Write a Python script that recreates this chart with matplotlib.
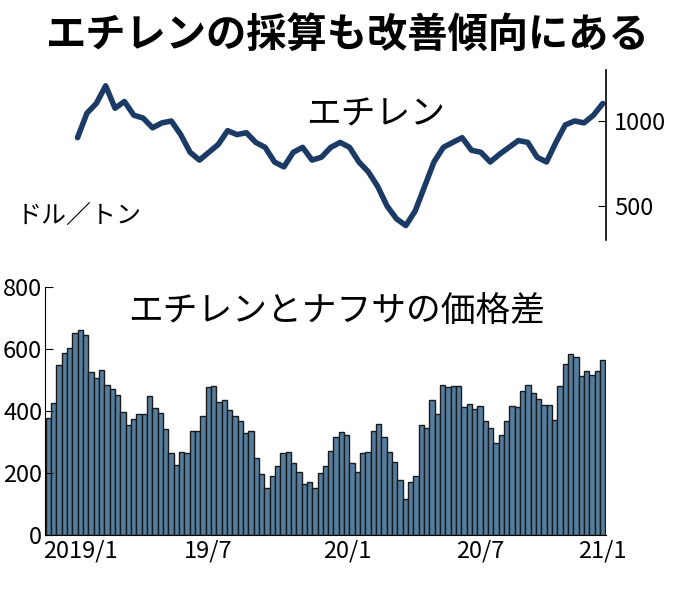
import matplotlib
matplotlib.use("Agg")
import matplotlib.pyplot as plt
import numpy as np

plt.rcParams["font.family"] = "Noto Sans CJK JP"

# weekly ethylene-naphtha spread, 2019/1 - 2021/1
spread = [378, 425, 550, 588, 603, 652, 660, 644, 527, 507, 532, 484, 470, 452,
          396, 356, 374, 390, 391, 447, 410, 394, 343, 266, 227, 269, 263, 337,
          337, 383, 476, 481, 429, 434, 404, 383, 367, 330, 337, 250, 197, 152,
          191, 221, 264, 269, 231, 202,
          163, 170, 152, 200, 221, 271, 316, 332, 322, 231, 202, 263, 268, 335,
          358, 316, 268, 236, 176, 117, 172, 191, 354, 346, 434, 390, 484, 479,
          481, 482, 412, 422, 406, 415, 369, 346, 298, 321, 369, 417, 412, 463,
          484, 457, 439, 418, 420, 372, 481, 553, 583, 574, 514, 529, 516, 529, 564]

# ethylene price, read along the same period
ethylene = [902, 1046, 1103, 1207, 1075, 1115, 1034, 1017, 960, 989, 1000, 920,
            816, 770, 816, 862, 943, 920, 931, 874, 845, 759, 730, 816, 845, 770,
            787, 845, 874, 845, 759, 701, 615, 500, 425, 385, 471, 615, 759, 845,
            874, 902, 828, 816, 759, 805, 845, 885, 874, 787, 759, 874, 977, 1000,
            989, 1034, 1103]

tick_pos = [6, 30, 56, 81, 104]
tick_labels = ["2019/1", "19/7", "20/1", "20/7", "21/1"]

fig = plt.figure(figsize=(6.96, 5.97), dpi=100)
fig.text(0.5, 0.94, "エチレンの採算も改善傾向にある", ha="center", va="center",
         fontsize=29, fontweight="bold")

n = len(spread)
x_bar = np.arange(n)

# top: ethylene line
ax1 = fig.add_axes([45 / 696, 1 - 240 / 597, 561 / 696, 170 / 597])
x_line = np.linspace(5.5, n - 1, len(ethylene))
ax1.plot(x_line, ethylene, color="#1b3b66", lw=4, solid_capstyle="round")
ax1.set_xlim(-0.6, n - 0.4)
ax1.set_ylim(300, 1300)
for s in ["top", "left", "bottom"]:
    ax1.spines[s].set_visible(False)
ax1.spines["right"].set_linewidth(1.2)
ax1.yaxis.tick_right()
ax1.set_yticks([500, 1000])
ax1.tick_params(axis="y", labelsize=17, length=6, direction="in", pad=6)
ax1.set_xticks([])
ax1.text(0.59, 0.68, "エチレン", transform=ax1.transAxes, fontsize=25, ha="center")
ax1.text(-0.05, 0.1, "ドル／トン", transform=ax1.transAxes, fontsize=18, ha="left")

# bottom: spread bars
ax2 = fig.add_axes([45 / 696, 1 - 535 / 597, 561 / 696, 248 / 597])
ax2.bar(x_bar, spread, width=1.0, color="#557d9e", edgecolor="#1a1a1a", linewidth=1.0)
ax2.set_xlim(-0.6, n - 0.4)
ax2.set_ylim(0, 800)
ax2.spines["top"].set_visible(False)
ax2.spines["right"].set_visible(False)
ax2.set_yticks([0, 200, 400, 600, 800])
ax2.tick_params(axis="y", labelsize=17, length=6, direction="in", pad=2)
ax2.set_xticks(tick_pos)
ax2.set_xticklabels(tick_labels, fontsize=17)
ax2.tick_params(axis="x", length=0, pad=3)
ax2.text(0.52, 0.86, "エチレンとナフサの価格差", transform=ax2.transAxes,
         fontsize=25, ha="center")

fig.savefig("out.png", dpi=100)
